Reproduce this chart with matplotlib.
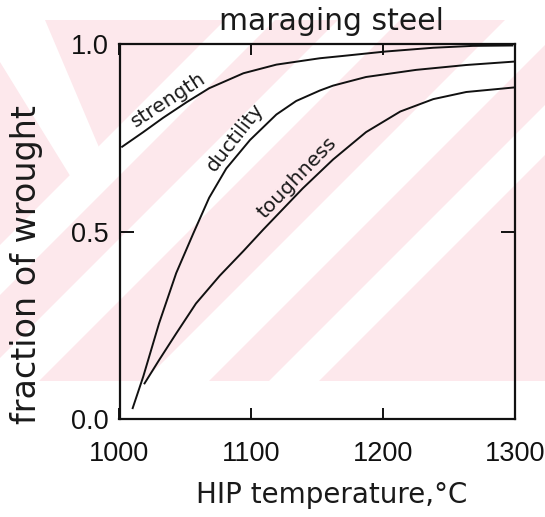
import matplotlib
matplotlib.use("Agg")
import matplotlib.pyplot as plt
from matplotlib.patches import Polygon, Rectangle
from matplotlib.transforms import Affine2D
import warnings
warnings.filterwarnings("ignore")

# ---------------- data ----------------
temp_strength = [1002, 1018, 1033, 1051, 1068, 1094, 1119, 1152, 1169, 1202, 1238, 1268, 1298]
strength = [0.726, 0.765, 0.803, 0.845, 0.882, 0.922, 0.945, 0.962, 0.968, 0.980, 0.990, 0.995, 0.996]

temp_ductility = [1010, 1018, 1030, 1043, 1056, 1068, 1081, 1099, 1119, 1134, 1152, 1162, 1187, 1225, 1263, 1299]
ductility = [0.029, 0.113, 0.255, 0.389, 0.495, 0.590, 0.668, 0.744, 0.812, 0.848, 0.876, 0.889, 0.912, 0.931, 0.944, 0.953]

temp_toughness = [1019, 1030, 1043, 1058, 1076, 1094, 1109, 1124, 1139, 1162, 1187, 1213, 1238, 1263, 1299]
toughness = [0.095, 0.157, 0.228, 0.308, 0.382, 0.448, 0.505, 0.560, 0.615, 0.692, 0.765, 0.820, 0.853, 0.872, 0.884]

x_ticks = [1000, 1100, 1200, 1300]
x_ticklabels = ["1000", "1100", "1200", "1300"]
y_ticks = [0.0, 0.5, 1.0]
y_ticklabels = ["0.0", "0.5", "1.0"]

title = "maraging steel"
xlabel = "HIP temperature,\u00b0C"
ylabel = "fraction of wrought"
curve_labels = ["strength", "ductility", "toughness"]

# ---------------- figure ----------------
W, H = 545, 517
fig = plt.figure(figsize=(W / 100, H / 100), dpi=100)
fig.patch.set_facecolor("white")

# pixel -> figure transform for the background decoration (y down)
pix = Affine2D().scale(1 / W, -1 / H).translate(0, 1) + fig.transFigure

# faint pink watermark in the background of the scan
pink = "#fde8ec"
PY0, PY1 = 20, 381
fig.patches.append(Rectangle((0, PY0), W, PY1 - PY0, transform=pix, facecolor=pink,
                             edgecolor="none", zorder=-10))
clip = Rectangle((0, PY0), W, PY1 - PY0, transform=pix)

def band(b1, b2, s=1.0):
    p = Polygon([(0, b1), (0, b2), (W, b2 - s * W), (W, b1 - s * W)], closed=True,
                transform=pix, facecolor="white", edgecolor="none", zorder=-9)
    p.set_clip_path(clip)
    return p

for b1, b2 in [(245, 295), (358, 420), (525, 590), (650, 700)]:
    fig.patches.append(band(b1, b2))
fig.patches.append(Polygon([(0, PY0), (45, PY0), (112, 178), (85, 200), (0, 62)], closed=True,
                           transform=pix, facecolor="white", edgecolor="none", zorder=-9))

ax = fig.add_axes([119.5 / W, 1 - 419 / H, (515 - 119.5) / W, (419 - 44) / H])
ax.set_facecolor("none")

ink = "#111111"
ax.plot(temp_strength, strength, color=ink, lw=1.4)
ax.plot(temp_ductility, ductility, color=ink, lw=1.4)
ax.plot(temp_toughness, toughness, color=ink, lw=1.4)

ax.set_xlim(1000, 1300)
ax.set_ylim(0, 1)
for s in ax.spines.values():
    s.set_linewidth(1.6)
    s.set_color(ink)

tick_font = dict(family=["Liberation Sans", "DejaVu Sans"], size=19.5)
ax.set_xticks(x_ticks)
ax.set_xticklabels(x_ticklabels, **tick_font)
ax.set_yticks(y_ticks)
ax.set_yticklabels(y_ticklabels, **tick_font)
ax.tick_params(axis="x", direction="in", length=8, width=1.4, pad=16, top=True,
               colors=ink)
ax.tick_params(axis="y", direction="in", length=10, width=1.4, pad=8, right=True,
               colors=ink)

def fp(x, y):
    return x / W, 1 - y / H

txt = dict(color="#1a1a1a", family="DejaVu Sans")
fig.text(*fp(331, 21), title, ha="center", va="center", fontsize=21.5, **txt)
fig.text(*fp(332, 495), xlabel, ha="center", va="center", fontsize=20, **txt)
fig.text(*fp(27, 265), ylabel, ha="center", va="center", rotation=90, fontsize=24, **txt)

fig.text(*fp(168, 100), curve_labels[0], ha="center", va="center", rotation=33,
         rotation_mode="anchor", fontsize=14.5, **txt)
fig.text(*fp(235, 137), curve_labels[1], ha="center", va="center", rotation=52,
         rotation_mode="anchor", fontsize=14.5, **txt)
fig.text(*fp(297, 178), curve_labels[2], ha="center", va="center", rotation=46,
         rotation_mode="anchor", fontsize=14.5, **txt)

fig.savefig("out.png", dpi=100)
